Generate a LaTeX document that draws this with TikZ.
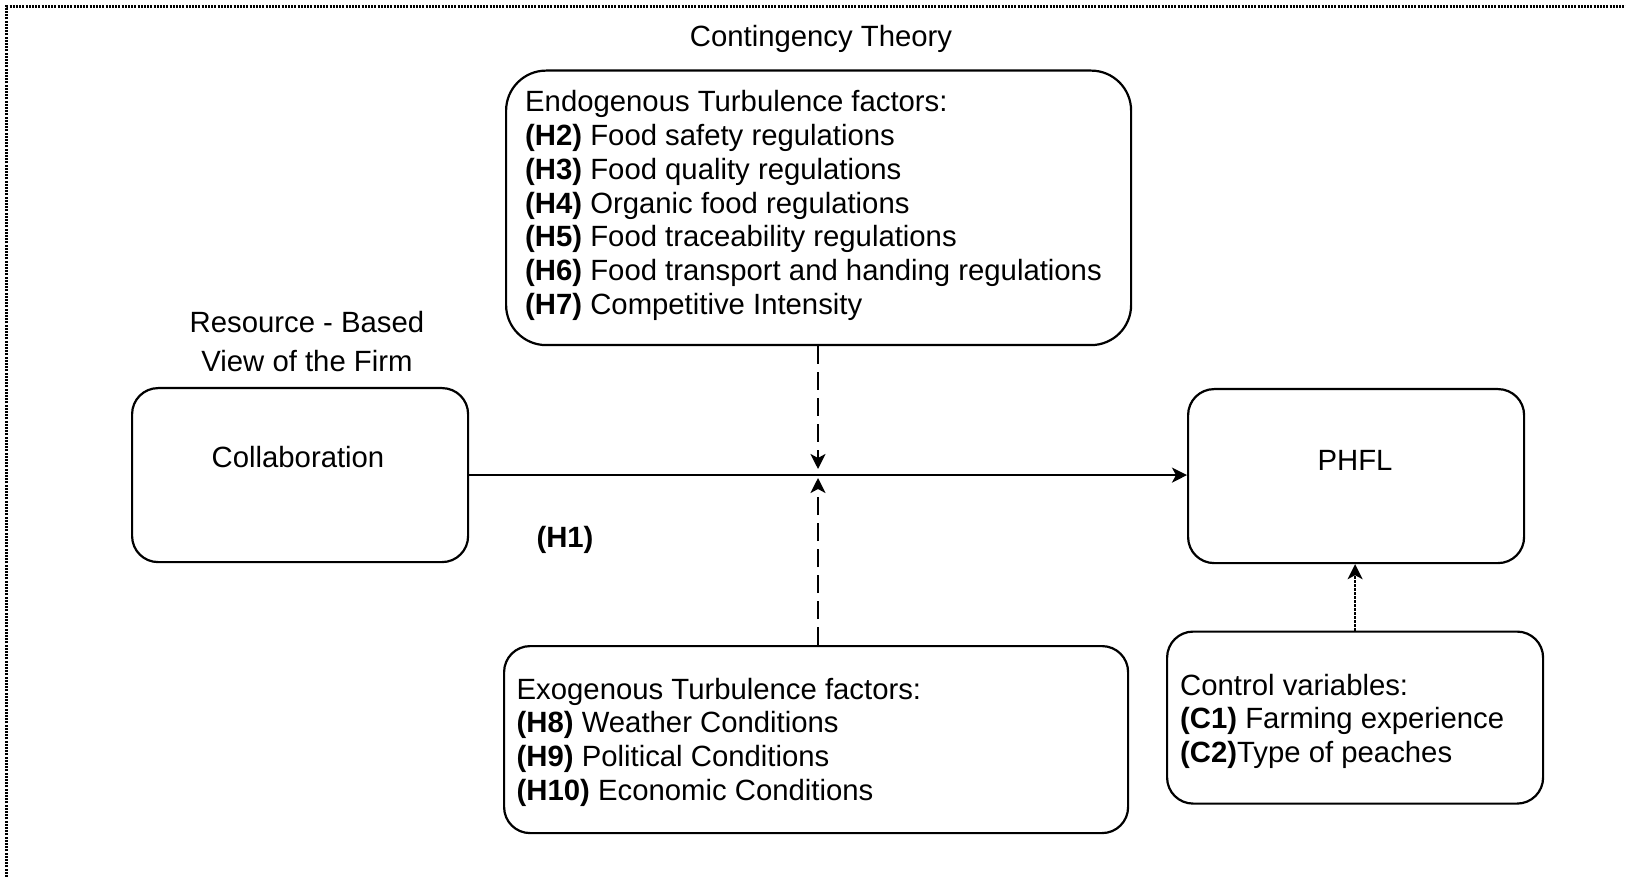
\documentclass[tikz,border=0pt]{standalone}
\usepackage{fontspec}
\setmainfont{Liberation Sans}
\usetikzlibrary{arrows.meta}
\begin{document}
\begin{tikzpicture}[x=1pt,y=-1pt,
  txt/.style={font=\fontsize{29.3}{34}\selectfont, inner sep=0pt},
  box/.style={draw, line width=2.2pt, rounded corners=#1, inner sep=0pt, anchor=north west},
  box/.default=26pt,
  link/.style={line width=2.3pt, -{Stealth[length=15pt, width=15pt, inset=4pt]}},
  dashlink/.style={link, dash pattern=on 18pt off 8pt},
  dotlink/.style={link, dash pattern=on 2.2pt off 1.8pt},
  frame/.style={line width=2.2pt, dash pattern=on 2pt off 1.2pt}
]
\useasboundingbox (0,0) rectangle (1626,877);

% dotted page frame
\draw[frame] (6.5,877) -- (6.5,6.5) -- (1626,6.5);

% boxes
\node[box] (collab) at (131,387) [minimum width=336pt, minimum height=174pt] {};
\node[box] (phfl) at (1187,388) [minimum width=336pt, minimum height=174pt] {};
\node[box=40pt] (endo) at (505,69.5) [minimum width=625pt, minimum height=274.5pt] {};
\node[box] (exo) at (503,645) [minimum width=624pt, minimum height=187pt] {};
\node[box] (ctrl) at (1166,630.5) [minimum width=376pt, minimum height=172pt] {};

% titles and labels
\node[txt, anchor=base] (ctheory) at (821,47) {Contingency Theory};
\node[txt, anchor=base] (rbv1) at (307,333) {Resource - Based};
\node[txt, anchor=base] (rbv2) at (307,372) {View of the Firm};
\node[txt, anchor=base] (collabtxt) at (298,467) {Collaboration};
\node[txt, anchor=base] (phfltxt) at (1355,470) {PHFL};
\node[txt, anchor=base] (h1) at (565,547) {\textbf{(H1)}};

% endogenous factors
\node[txt, anchor=base west] (en0) at (525,112) {Endogenous Turbulence factors:};
\node[txt, anchor=base west] (en1) at (525,145.7) {\textbf{(H2)} Food safety regulations};
\node[txt, anchor=base west] (en2) at (525,179.4) {\textbf{(H3)} Food quality regulations};
\node[txt, anchor=base west] (en3) at (525,213.1) {\textbf{(H4)} Organic food regulations};
\node[txt, anchor=base west] (en4) at (525,246.8) {\textbf{(H5)} Food traceability regulations};
\node[txt, anchor=base west] (en5) at (525,280.5) {\textbf{(H6)} Food transport and handing regulations};
\node[txt, anchor=base west] (en6) at (525,314.2) {\textbf{(H7)} Competitive Intensity};

% exogenous factors
\node[txt, anchor=base west] (ex0) at (516.5,699) {Exogenous Turbulence factors:};
\node[txt, anchor=base west] (ex1) at (516.5,732.7) {\textbf{(H8)} Weather Conditions};
\node[txt, anchor=base west] (ex2) at (516.5,766.4) {\textbf{(H9)} Political Conditions};
\node[txt, anchor=base west] (ex3) at (516.5,800.1) {\textbf{(H10)} Economic Conditions};

% control variables
\node[txt, anchor=base west] (cv0) at (1180,695) {Control variables:};
\node[txt, anchor=base west] (cv1) at (1180,728.5) {\textbf{(C1)} Farming experience};
\node[txt, anchor=base west] (cv2) at (1180,762) {\textbf{(C2)}Type of peaches};

% connectors
\coordinate (j) at (818,474);
\draw[link] (collab.east) -- (collab.east -| phfl.west);
\draw[dashlink] (j |- endo.south) -- ([yshift=5pt]j);
\draw[dashlink] (j |- exo.north) -- ([yshift=-4pt]j);
\draw[dotlink] (ctrl.north) -- (ctrl.north |- phfl.south);
\end{tikzpicture}
\end{document}
